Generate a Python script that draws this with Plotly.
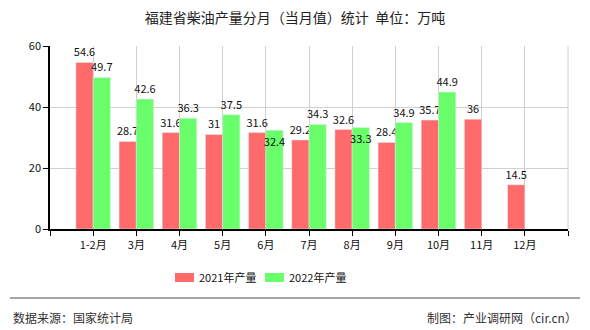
import plotly.graph_objects as go

categories = ["1-2月", "3月", "4月", "5月", "6月", "7月", "8月", "9月", "10月", "11月", "12月"]
values_2021 = [54.6, 28.7, 31.6, 31, 31.6, 29.2, 32.6, 28.4, 35.7, 36, 14.5]
values_2022 = [49.7, 42.6, 36.3, 37.5, 32.4, 34.3, 33.3, 34.9, 44.9, None, None]
series_names = ["2021年产量", "2022年产量"]
series_colors = ["#FF6A6A", "#6AFF6A"]
y_ticks = [0, 20, 40, 60]

FONT = "Noto Sans CJK SC"
xs = list(range(len(categories)))

def fmt(v):
    if v is None:
        return ""
    return str(int(v)) if float(v).is_integer() else str(v)

def positions(own, other):
    # put a label inside the bar top when it would collide with the neighbour's label
    out = []
    for a, b in zip(own, other):
        if a is not None and b is not None and a > b and abs(a - b) < 1.5:
            out.append("inside")
        else:
            out.append("outside")
    return out

fig = go.Figure()
for name, vals, other, col in zip(series_names, [values_2021, values_2022],
                                  [values_2022, values_2021], series_colors):
    fig.add_trace(go.Bar(
        x=xs, y=vals, name=name, marker_color=col,
        text=[fmt(v) for v in vals], textposition=positions(vals, other),
        insidetextanchor="end", constraintext="none", textangle=0,
        textfont=dict(size=11, color="#111", family=FONT),
        insidetextfont=dict(size=11, color="#111", family=FONT),
        outsidetextfont=dict(size=11, color="#111", family=FONT),
        cliponaxis=False, showlegend=False,
    ))

PW, PH, L, T = 518, 183, 50, 46
def px(x):
    return (x - L) / PW
def py(y):
    return (T + PH - y) / PH

fig.update_layout(
    width=590, height=330,
    margin=dict(l=50, r=22, t=46, b=101),
    paper_bgcolor="white", plot_bgcolor="white",
    barmode="group", bargap=0.2, bargroupgap=0,
    font=dict(family=FONT, size=11, color="#222"),
    title=dict(text="福建省柴油产量分月（当月值）统计  单位：万吨", x=0.5, xanchor="center",
               y=1 - 18 / 330, yanchor="middle", font=dict(size=14, color="#222", family=FONT)),
    showlegend=False,
)

tickvals = [-1] + xs + [len(categories)]
ticktext = [""] + categories + [""]
fig.update_xaxes(
    range=[-1, len(categories)], tickvals=tickvals, ticktext=ticktext,
    showgrid=True, gridcolor="#d0d0d0", gridwidth=1,
    showline=True, linecolor="#000", linewidth=1.5,
    ticks="outside", ticklen=5, tickcolor="#000",
    tickfont=dict(size=11, color="#111", family=FONT), zeroline=False,
)
fig.update_yaxes(
    range=[0, 60], tickvals=y_ticks,
    showgrid=True, gridcolor="#d0d0d0", gridwidth=1,
    showline=True, linecolor="#000", linewidth=1.5,
    ticks="outside", ticklen=5, tickcolor="#000",
    tickfont=dict(size=11, color="#111", family=FONT), zeroline=False,
)
fig.add_shape(type="line", xref="paper", yref="paper", x0=1, x1=1, y0=0, y1=1,
              line=dict(color="#d0d0d0", width=1))

# custom legend
for i, (name, col) in enumerate(zip(series_names, series_colors)):
    x0 = 175 + i * 90
    fig.add_shape(type="rect", xref="paper", yref="paper",
                  x0=px(x0), x1=px(x0 + 19), y0=py(282), y1=py(273),
                  fillcolor=col, line=dict(width=0))
    fig.add_annotation(text=name, xref="paper", yref="paper",
                       x=px(x0 + 22), y=py(277), xanchor="left", yanchor="middle",
                       showarrow=False, font=dict(size=11, color="#111", family=FONT))

# footer
fig.add_shape(type="line", xref="paper", yref="paper",
              x0=px(10), x1=px(580), y0=py(298), y1=py(298),
              line=dict(color="#888", width=1.5))
fig.add_annotation(text="数据来源：国家统计局", xref="paper", yref="paper",
                   x=px(11), y=py(317), xanchor="left", yanchor="middle",
                   showarrow=False, font=dict(size=12, color="#333", family=FONT))
fig.add_annotation(text="制图：产业调研网（cir.cn）", xref="paper", yref="paper",
                   x=px(579), y=py(317), xanchor="right", yanchor="middle",
                   showarrow=False, font=dict(size=12, color="#333", family=FONT))

fig.write_html("out.html")
